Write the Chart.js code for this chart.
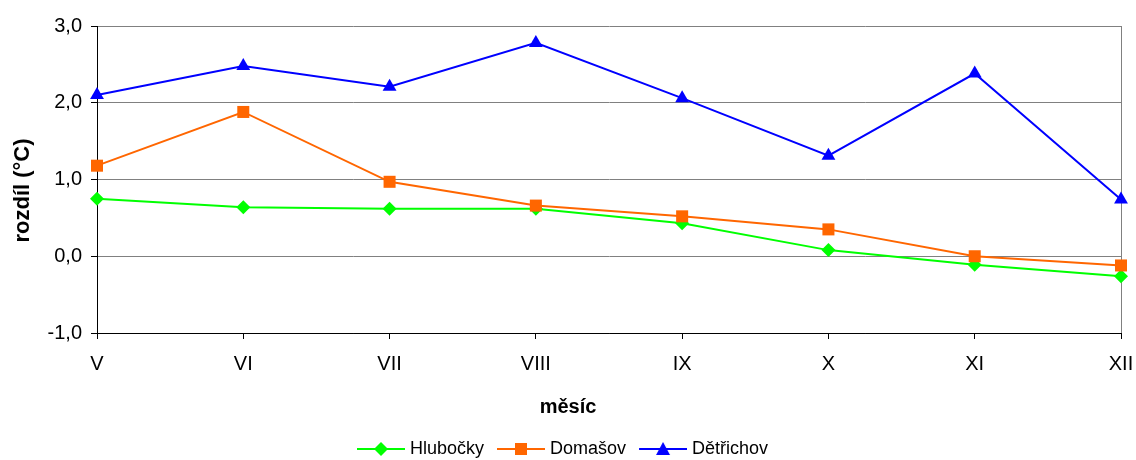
<!DOCTYPE html>
<html>
<head>
<meta charset="utf-8">
<script src="https://cdn.jsdelivr.net/npm/chart.js@4.4.0/dist/chart.umd.min.js"></script>
<style>
  html, body { margin: 0; padding: 0; background: #fff; }
  #wrap { width: 1136px; height: 460px; }
</style>
</head>
<body>
<div id="wrap"><canvas id="graf" width="1136" height="460"></canvas></div>
<script>
// data
const mesice = ['V', 'VI', 'VII', 'VIII', 'IX', 'X', 'XI', 'XII'];
const hlubocky = [0.75, 0.64, 0.62, 0.62, 0.43, 0.08, -0.11, -0.26];
const domasov = [1.18, 1.88, 0.97, 0.66, 0.52, 0.35, 0.00, -0.12];
const detrichov = [2.10, 2.48, 2.21, 2.78, 2.06, 1.31, 2.38, 0.74];
const yMin = -1, yMax = 3, yStep = 1;
const xTitle = 'měsíc';
const yTitle = 'rozdíl (°C)';

const font = 'Liberation Sans, Arial, sans-serif';

// legend icon: short line with marker in the middle (line starts 8px in, so text sits closer)
function legendIcon(color, shape) {
    const c = document.createElement('canvas');
    c.width = 56; c.height = 16;
    const ctx = c.getContext('2d');
    const m = 32;
    ctx.strokeStyle = color; ctx.fillStyle = color; ctx.lineWidth = 2;
    ctx.beginPath(); ctx.moveTo(8, 8); ctx.lineTo(56, 8); ctx.stroke();
    ctx.beginPath();
    if (shape === 'diamond') {
        ctx.moveTo(m, 1); ctx.lineTo(m + 7, 8); ctx.lineTo(m, 15); ctx.lineTo(m - 7, 8);
    } else if (shape === 'square') {
        ctx.rect(m - 6, 2, 12, 12);
    } else {
        ctx.moveTo(m, 1); ctx.lineTo(m + 7, 14); ctx.lineTo(m - 7, 14);
    }
    ctx.closePath(); ctx.fill();
    return c;
}

const icons = [
    legendIcon('#00ff00', 'diamond'),
    legendIcon('#ff6600', 'square'),
    legendIcon('#0000ff', 'triangle')
];

// axis titles placed like the original (x title centred on the whole chart)
const axisTitles = {
    id: 'axisTitles',
    afterDraw(chart) {
        const ctx = chart.ctx;
        const area = chart.chartArea;
        ctx.save();
        ctx.fillStyle = '#000';
        ctx.textAlign = 'center';
        ctx.textBaseline = 'middle';
        ctx.font = 'bold 20px ' + font;
        ctx.fillText(xTitle, chart.width / 2, area.bottom + 74);
        ctx.translate(23, (area.top + area.bottom) / 2 + 11);
        ctx.rotate(-Math.PI / 2);
        ctx.font = 'bold 22px ' + font;
        ctx.fillText(yTitle, 0, 0);
        ctx.restore();
    }
};

new Chart(document.getElementById('graf'), {
    type: 'line',
    data: {
        labels: mesice,
        datasets: [
            { label: 'Hlubočky', data: hlubocky, borderColor: '#00ff00', backgroundColor: '#00ff00',
              pointStyle: 'rectRot', pointRadius: 7, order: 3 },
            { label: 'Domašov', data: domasov, borderColor: '#ff6600', backgroundColor: '#ff6600',
              pointStyle: 'rect', pointRadius: 8.5, order: 2 },
            { label: 'Dětřichov', data: detrichov, borderColor: '#0000ff', backgroundColor: '#0000ff',
              pointStyle: 'triangle', pointRadius: 8, order: 1 }
        ]
    },
    plugins: [axisTitles],
    options: {
        responsive: false,
        animation: false,
        layout: { padding: { top: 26, right: 15, left: 0, bottom: -8 } },
        elements: {
            line: { borderWidth: 2, tension: 0 },
            point: { borderWidth: 0, hoverRadius: 8 }
        },
        datasets: { line: { clip: false } },
        scales: {
            x: {
                offset: false,
                afterFit: s => { s.height = 98; s.paddingRight = 0; s.paddingLeft = 0; },
                grid: {
                    color: ctx => ctx.index === mesice.length - 1 ? '#808080' : 'rgba(0,0,0,0)',
                    tickColor: '#000', tickLength: 6
                },
                border: { color: '#000', width: 1 },
                ticks: { color: '#000', font: { family: font, size: 20 }, padding: 13, maxRotation: 0 },
                title: { display: false }
            },
            y: {
                min: yMin, max: yMax,
                afterFit: s => { s.width = 97; },
                grid: {
                    color: ctx => ctx.tick && ctx.tick.value === yMin ? '#000' : '#808080',
                    tickColor: '#000', tickLength: 6
                },
                border: { color: '#000', width: 1 },
                ticks: {
                    stepSize: yStep, color: '#000', padding: 9,
                    font: { family: font, size: 20 },
                    callback: v => v.toFixed(1).replace('.', ',')
                },
                title: { display: false }
            }
        },
        plugins: {
            tooltip: { enabled: false },
            legend: {
                position: 'bottom',
                labels: {
                    usePointStyle: true,
                    pointStyleWidth: 48,
                    padding: 9,
                    color: '#000',
                    font: { family: font, size: 18 },
                    sort: (a, b) => a.datasetIndex - b.datasetIndex,
                    generateLabels: chart => chart.data.datasets.map((ds, i) => ({
                        text: ds.label,
                        pointStyle: icons[i],
                        datasetIndex: i,
                        fontColor: '#000',
                        hidden: false,
                        lineWidth: 0,
                        strokeStyle: 'rgba(0,0,0,0)',
                        fillStyle: 'rgba(0,0,0,0)'
                    }))
                }
            }
        }
    }
});
</script>
</body>
</html>
